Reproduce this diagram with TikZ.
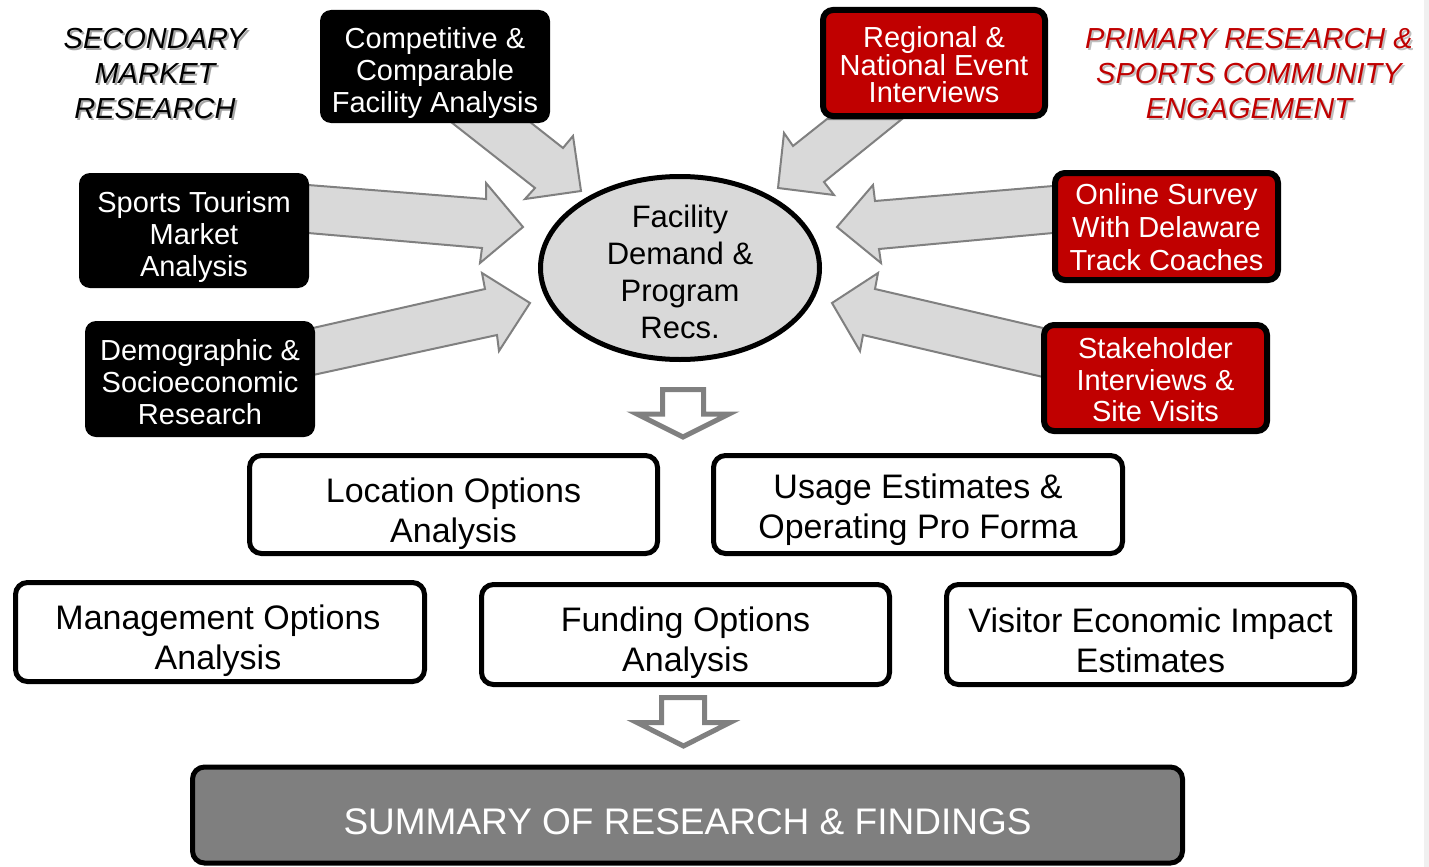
\documentclass[tikz,border=0pt]{standalone}
\usepackage{fontspec}
\setmainfont{Liberation Sans}
\usetikzlibrary{shapes.geometric}
\definecolor{redc}{HTML}{C00000}
\definecolor{lightg}{HTML}{D9D9D9}
\definecolor{strokeg}{HTML}{808080}
\definecolor{sumg}{HTML}{7F7F7F}
\begin{document}
\begin{tikzpicture}[x=1pt,y=-1pt,
  blackbox/.style={fill=black, rounded corners=11pt, minimum width=230pt, minimum height=113pt, inner sep=0pt},
  redbox/.style={fill=redc, draw=black, line width=6pt, rounded corners=10pt, minimum width=222pt, minimum height=106pt, inner sep=0pt},
  whitebox/.style={fill=white, draw=black, line width=5pt, rounded corners=12pt, minimum width=408pt, minimum height=98pt, inner sep=0pt},
  wtext/.style={text=white, align=center, inner sep=0pt, font=\fontsize{29}{32}\selectfont},
  btext/.style={text=black, align=center, inner sep=0pt, font=\fontsize{34}{40.5}\selectfont},
  blockarrow/.style={fill=lightg, draw=strokeg, line width=2pt, line join=miter},
  downarrow/.style={fill=white, draw=strokeg, line width=5pt, line join=miter},
  heading/.style={align=center, inner sep=0pt, font=\fontsize{29}{35}\selectfont\itshape},
]
\useasboundingbox (0,0) rectangle (1429,867);
\fill[white] (0,0) rectangle (1429,867);
\fill[black!6] (1424,0) rectangle (1429,867);

% block arrows
\draw[blockarrow] (451,122) -- (535,188) -- (525,199) -- (581,191) -- (573,136) -- (563,148) -- (530,122) -- cycle;
\draw[blockarrow] (308,185) -- (486,199) -- (486,183) -- (523,227) -- (480,263) -- (482,248) -- (308,233) -- cycle;
\draw[blockarrow] (313,328) -- (485,289) -- (482,273) -- (530,303) -- (499,351) -- (497,335) -- (313,375) -- cycle;
\draw[blockarrow] (827,119) -- (793,146) -- (784,133) -- (778,188) -- (834,195) -- (824,182) -- (902,119) -- cycle;
\draw[blockarrow] (1053,186) -- (875,201) -- (873,185) -- (837,227) -- (881,263) -- (879,249) -- (1053,233) -- cycle;
\draw[blockarrow] (1043,328) -- (875,289) -- (878,273) -- (832,303) -- (860,351) -- (863,335) -- (1043,377) -- cycle;

% headings
\node[heading, text=black!35] (secsh) at (157,76) {SECONDARY\\MARKET\\RESEARCH};
\node[heading] (sec) at (155,74) {SECONDARY\\MARKET\\RESEARCH};
\node[heading, text=black!25] (prish) at (1251,76) {PRIMARY RESEARCH \&\\SPORTS COMMUNITY\\ENGAGEMENT};
\node[heading, text=redc] (pri) at (1249,74) {PRIMARY RESEARCH \&\\SPORTS COMMUNITY\\ENGAGEMENT};

% left boxes
\node[blackbox] (comp) at (435,66.5) {};
\node[wtext] (compt) at ([yshift=-7pt]comp.center) {Competitive \&\\Comparable\\Facility Analysis};
\node[blackbox, minimum height=115pt] (sports) at (194,230.5) {};
\node[wtext] (sportst) at ([yshift=-6pt]sports.center) {Sports Tourism\\Market\\Analysis};
\node[blackbox, minimum height=116pt] (demo) at (200,379) {};
\node[wtext] (demot) at ([yshift=-3.5pt]demo.center) {Demographic \&\\Socioeconomic\\Research};

% right boxes
\node[redbox] (reg) at (934,63) {};
\node[wtext, font=\fontsize{29}{26.5}\selectfont] (regt) at ([yshift=-1.5pt]reg.center) {Regional \&\\National Event\\Interviews};
\node[redbox, minimum width=223pt, minimum height=107pt] (online) at (1166.5,226.5) {};
\node[wtext, font=\fontsize{29}{33}\selectfont] (onlinet) at ([yshift=-0.5pt]online.center) {Online Survey\\With Delaware\\Track Coaches};
\node[redbox, minimum width=223pt] (stake) at (1155.5,378) {};
\node[wtext, font=\fontsize{29}{31.5}\selectfont] (staket) at ([yshift=-2pt]stake.center) {Stakeholder\\Interviews \&\\Site Visits};

% ellipse
\node[ellipse, fill=lightg, draw=black, line width=5pt, minimum width=279pt, minimum height=183pt, inner sep=0pt] (fac) at (680,268) {};
\node[align=center, inner sep=0pt, font=\fontsize{31}{37}\selectfont] (fact) at ([yshift=-3.5pt]fac.center) {Facility\\Demand \&\\Program\\Recs.};

% down arrow 1
\draw[downarrow] (662.5,389.5) -- (703.5,389.5) -- (703.5,414) -- (729,414) -- (683,437) -- (637,414) -- (662.5,414) -- cycle;

% white boxes
\node[whitebox] (loc) at (453.5,504.5) {};
\node[btext] (loct) at ([yshift=-9pt]loc.center) {Location Options\\Analysis};
\node[whitebox, minimum width=409pt] (usage) at (918,504.5) {};
\node[btext] (usaget) at ([yshift=-5pt]usage.center) {Usage Estimates \&\\Operating Pro Forma};
\node[whitebox, minimum width=409pt, minimum height=99pt] (mgmt) at (220,632) {};
\node[btext] (mgmtt) at ([xshift=-2pt,yshift=-8.5pt]mgmt.center) {Management Options\\Analysis};
\node[whitebox, minimum height=100pt] (fund) at (685.5,634.5) {};
\node[btext] (fundt) at ([yshift=-8pt]fund.center) {Funding Options\\Analysis};
\node[whitebox, minimum height=100pt] (visit) at (1150.5,634.5) {};
\node[btext] (visitt) at ([yshift=-6pt]visit.center) {Visitor Economic Impact\\Estimates};

% down arrow 2
\draw[downarrow] (661.5,697.5) -- (704.5,697.5) -- (704.5,722.5) -- (730,722.5) -- (683.5,746) -- (637,722.5) -- (661.5,722.5) -- cycle;

% summary
\node[fill=sumg, draw=black, line width=5pt, rounded corners=12pt, minimum width=990pt, minimum height=96pt, inner sep=0pt] (sum) at (687.5,815) {};
\node[text=white, inner sep=0pt, font=\fontsize{37}{40}\selectfont] (sumt) at ([yshift=-7pt]sum.center) {SUMMARY OF RESEARCH \& FINDINGS};
\end{tikzpicture}
\end{document}
